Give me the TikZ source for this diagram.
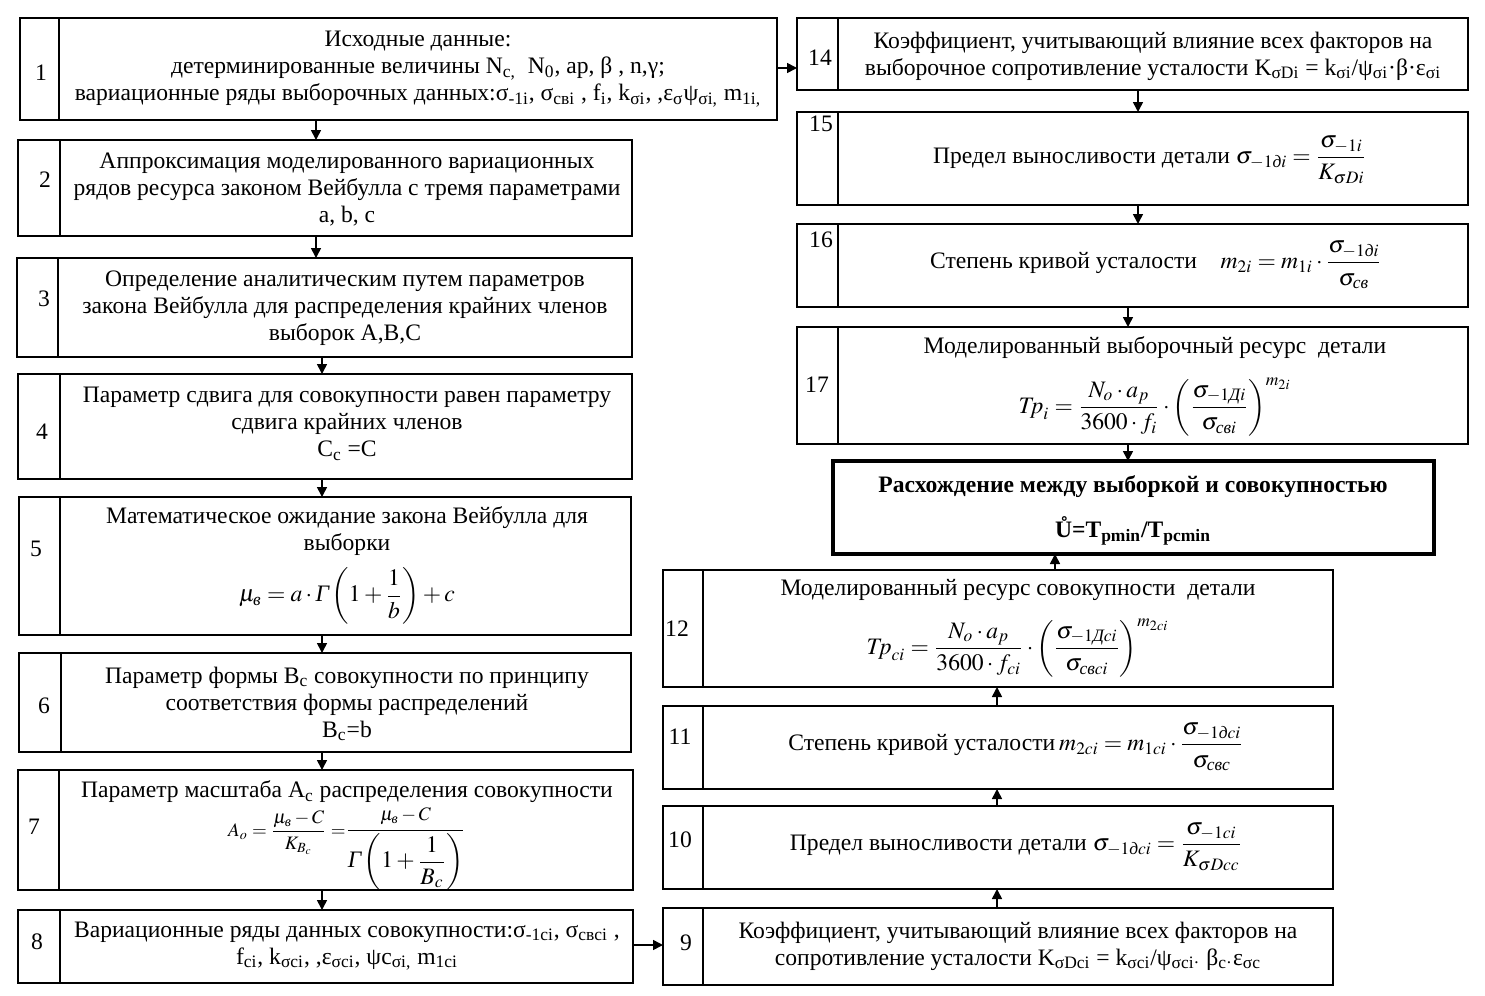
\documentclass[tikz,border=0pt]{standalone}
\usepackage{amsmath}
\usepackage{mathptmx}
\usepackage{fontspec}
\setmainfont{Liberation Serif}
\usetikzlibrary{arrows.meta}
\newcommand\cyr[1]{\text{\itshape #1}}
\newcommand\Gam{\text{\itshape Γ}}
\tikzset{
 bx/.style={draw, line width=1pt, inner sep=0pt, outer sep=0pt},
 resbx/.style={draw, line width=2pt, inner sep=0pt, outer sep=0pt},
 txt/.style={align=center, font=\fontsize{11.8}{13.5}\selectfont, inner sep=0pt},
 numst/.style={font=\fontsize{11.8}{13.5}\selectfont, inner sep=0pt},
 arr/.style={-{Triangle[length=5pt,width=5pt]}, line width=0.8pt},
}
% name, x1, y1, x2, y2, divider x
\newcommand\mkbox[6]{%
 \node[bx, minimum width={(#4-#2)*0.5pt}, minimum height={(#5-#3)*0.5pt}] (#1) at ({(#2+#4)/2},{(#3+#5)/2}) {};
 \draw[line width=1pt] (#6,#3) -- (#6,#5);}
\begin{document}
\begin{tikzpicture}[x=0.5pt,y=-0.5pt]
\useasboundingbox (0,0) rectangle (1485,996);
% left column
\mkbox{b1}{20}{18}{777}{120}{59}
\mkbox{b2}{18}{140}{632}{236}{60}
\mkbox{b3}{17}{258}{632}{357}{58}
\mkbox{b4}{18}{374}{632}{479}{60}
\mkbox{b5}{19}{497}{631}{635}{60}
\mkbox{b6}{19}{653}{631}{752}{61}
\mkbox{b7}{18}{770}{633}{890}{59}
\mkbox{b8}{18}{910}{633}{983}{60}
% lower right column
\mkbox{b9}{663}{908}{1333}{985}{703}
\mkbox{b10}{663}{806}{1333}{889}{703}
\mkbox{b11}{663}{706}{1333}{789}{703}
\mkbox{b12}{663}{570}{1333}{687}{703}
% upper right column
\mkbox{b14}{797}{18}{1468}{90}{838}
\mkbox{b15}{797}{112}{1468}{205}{838}
\mkbox{b16}{797}{224}{1468}{307}{838}
\mkbox{b17}{797}{327}{1468}{444}{838}
\node[resbx, minimum width={(1434-833)*0.5pt}, minimum height={(554-461)*0.5pt}] (res) at ({(833+1434)/2},{(461+554)/2}) {};

% numbers
\node[numst] (n1) at (41,73) {1};
\node[numst] (n2) at (45,180) {2};
\node[numst] (n3) at (44,299) {3};
\node[numst] (n4) at (42,432) {4};
\node[numst] (n5) at (36,549) {5};
\node[numst] (n6) at (44,706) {6};
\node[numst] (n7) at (34,827) {7};
\node[numst] (n8) at (37,942) {8};
\node[numst] (n9) at (686,943) {9};
\node[numst] (n10) at (680,840) {10};
\node[numst] (n11) at (680,737) {11};
\node[numst] (n12) at (677,629) {12};
\node[numst] (n14) at (820,58) {14};
\node[numst] (n15) at (821,124) {15};
\node[numst] (n16) at (821,240) {16};
\node[numst] (n17) at (817,385) {17};

% texts
\node[txt] (t1) at (418,69) {Исходные данные:\\
детерминированные величины N\textsubscript{c,}\ \ N\textsubscript{0}, ap, β , n,γ;\\
вариационные ряды выборочных данных:σ\textsubscript{-1i}, σ\textsubscript{свi} , f\textsubscript{i}, k\textsubscript{σi}, ,ε\textsubscript{σ}ψ\textsubscript{σi,} m\textsubscript{1i,}};
\node[txt] (t2) at (347,190) {Аппроксимация моделированного вариационных\\рядов ресурса законом Вейбулла с тремя параметрами\\a, b, c};
\node[txt] (t3) at (345,308) {Определение аналитическим путем параметров\\закона Вейбулла для распределения крайних членов\\выборок A,B,C};
\node[txt] (t4) at (347,424) {Параметр сдвига для совокупности равен параметру\\сдвига крайних членов\\C\textsubscript{c} =C};
\node[txt] (t5) at (347,531) {Математическое ожидание закона Вейбулла для\\выборки};
\node[txt] (f5) at (347,596) {$\mu_{\cyr{в}}=a\cdot \Gam\left(1+\dfrac{1}{b}\right)+c$};
\node[txt] (t6) at (347,704) {Параметр формы B\textsubscript{c} совокупности по принципу\\соответствия формы распределений\\B\textsubscript{c}=b};
\node[txt] (t7) at (347,792) {Параметр масштаба A\textsubscript{c} распределения совокупности};
\node[txt] (f7) at (347,849) {{\fontsize{9.5}{11}\selectfont$A_o=\dfrac{\mu_{\cyr{в}}-C}{K_{B_c}}=$}$\dfrac{\text{\fontsize{9.5}{11}\selectfont$\mu_{\cyr{в}}-C$}}{\Gam\left(1+\dfrac{1}{B_c}\right)}$};
\node[txt] (t8) at (347,946) {Вариационные ряды данных совокупности:σ\textsubscript{-1ci}, σ\textsubscript{свci} ,\\
f\textsubscript{ci}, k\textsubscript{σci}, ,ε\textsubscript{σci}, ψc\textsubscript{σi,} m\textsubscript{1ci}};
\node[txt] (t9) at (1018,946) {Коэффициент, учитывающий влияние всех факторов на\\
сопротивление усталости K\textsubscript{σDci} = k\textsubscript{σci}/ψ\textsubscript{σci·} β\textsubscript{c·}ε\textsubscript{σc}};
\node[txt] (t10) at (1016,847) {Предел выносливости детали $\sigma_{-1\cyr{д}ci}=\dfrac{\sigma_{-1ci}}{K_{\sigma Dcc}}$};
\node[txt] (t11) at (1016,747) {Степень кривой усталости\,$m_{2ci}=m_{1ci}\cdot\dfrac{\sigma_{-1\cyr{д}ci}}{\sigma_{\cyr{свс}}}$};
\node[txt] (t12) at (1018,590) {Моделированный ресурс совокупности\ \ детали};
\node[txt] (f12) at (1018,648) {$\mathit{Tp}_{ci}=\dfrac{N_o\cdot a_p}{3600\cdot f_{ci}}\cdot\left(\dfrac{\sigma_{-1\cyr{Д}ci}}{\sigma_{\cyr{св}ci}}\right)^{m_{2ci}}$};
\node[txt] (t14) at (1153,56) {Коэффициент, учитывающий влияние всех факторов на\\
выборочное сопротивление усталости K\textsubscript{σDi} = k\textsubscript{σi}/ψ\textsubscript{σi}·β·ε\textsubscript{σi}};
\node[txt] (t15) at (1150,160) {Предел выносливости детали $\sigma_{-1\cyr{д}i}=\dfrac{\sigma_{-1i}}{K_{\sigma Di}}$};
\node[txt] (t16) at (1156,265) {Степень кривой усталости\quad $m_{2i}=m_{1i}\cdot\dfrac{\sigma_{-1\cyr{д}i}}{\sigma_{\cyr{св}}}$};
\node[txt] (t17) at (1155,348) {Моделированный выборочный ресурс\ \ детали};
\node[txt] (f17) at (1155,407) {$\mathit{Tp}_{i}=\dfrac{N_o\cdot a_p}{3600\cdot f_{i}}\cdot\left(\dfrac{\sigma_{-1\cyr{Д}i}}{\sigma_{\cyr{св}i}}\right)^{m_{2i}}$};
\node[txt, font=\fontsize{11.8}{13.5}\selectfont\bfseries] (tr1) at (1133,487) {Расхождение между выборкой и совокупностью};
\node[txt, font=\fontsize{11.8}{13.5}\selectfont\bfseries] (tr2) at (1133,531) {Ů=T\textsubscript{pmin}/T\textsubscript{pcmin}};

% arrow x positions
\coordinate (xa) at (316,0);
\coordinate (xb) at (322,0);
\coordinate (xc) at (997,0);
\coordinate (xd) at (1055,0);
\coordinate (xe) at (1138,0);
\coordinate (xf) at (1128,0);
\coordinate (ya) at (0,68);
\coordinate (yb) at (0,945);

\draw[arr] (b1.south -| xa) -- (b2.north -| xa);
\draw[arr] (b2.south -| xa) -- (b3.north -| xa);
\draw[arr] (b3.south -| xb) -- (b4.north -| xb);
\draw[arr] (b4.south -| xb) -- (b5.north -| xb);
\draw[arr] (b5.south -| xb) -- (b6.north -| xb);
\draw[arr] (b6.south -| xb) -- (b7.north -| xb);
\draw[arr] (b7.south -| xb) -- (b8.north -| xb);
\draw[arr] (b8.east |- yb) -- (b9.west |- yb);
\draw[arr] (b9.north -| xc) -- (b10.south -| xc);
\draw[arr] (b10.north -| xc) -- (b11.south -| xc);
\draw[arr] (b11.north -| xc) -- (b12.south -| xc);
\draw[arr] (b12.north -| xd) -- (res.south -| xd);
\draw[arr] (b1.east |- ya) -- (b14.west |- ya);
\draw[arr] (b14.south -| xe) -- (b15.north -| xe);
\draw[arr] (b15.south -| xe) -- (b16.north -| xe);
\draw[arr] (b16.south -| xf) -- (b17.north -| xf);
\draw[arr] (b17.south -| xf) -- (res.north -| xf);
\end{tikzpicture}
\end{document}
